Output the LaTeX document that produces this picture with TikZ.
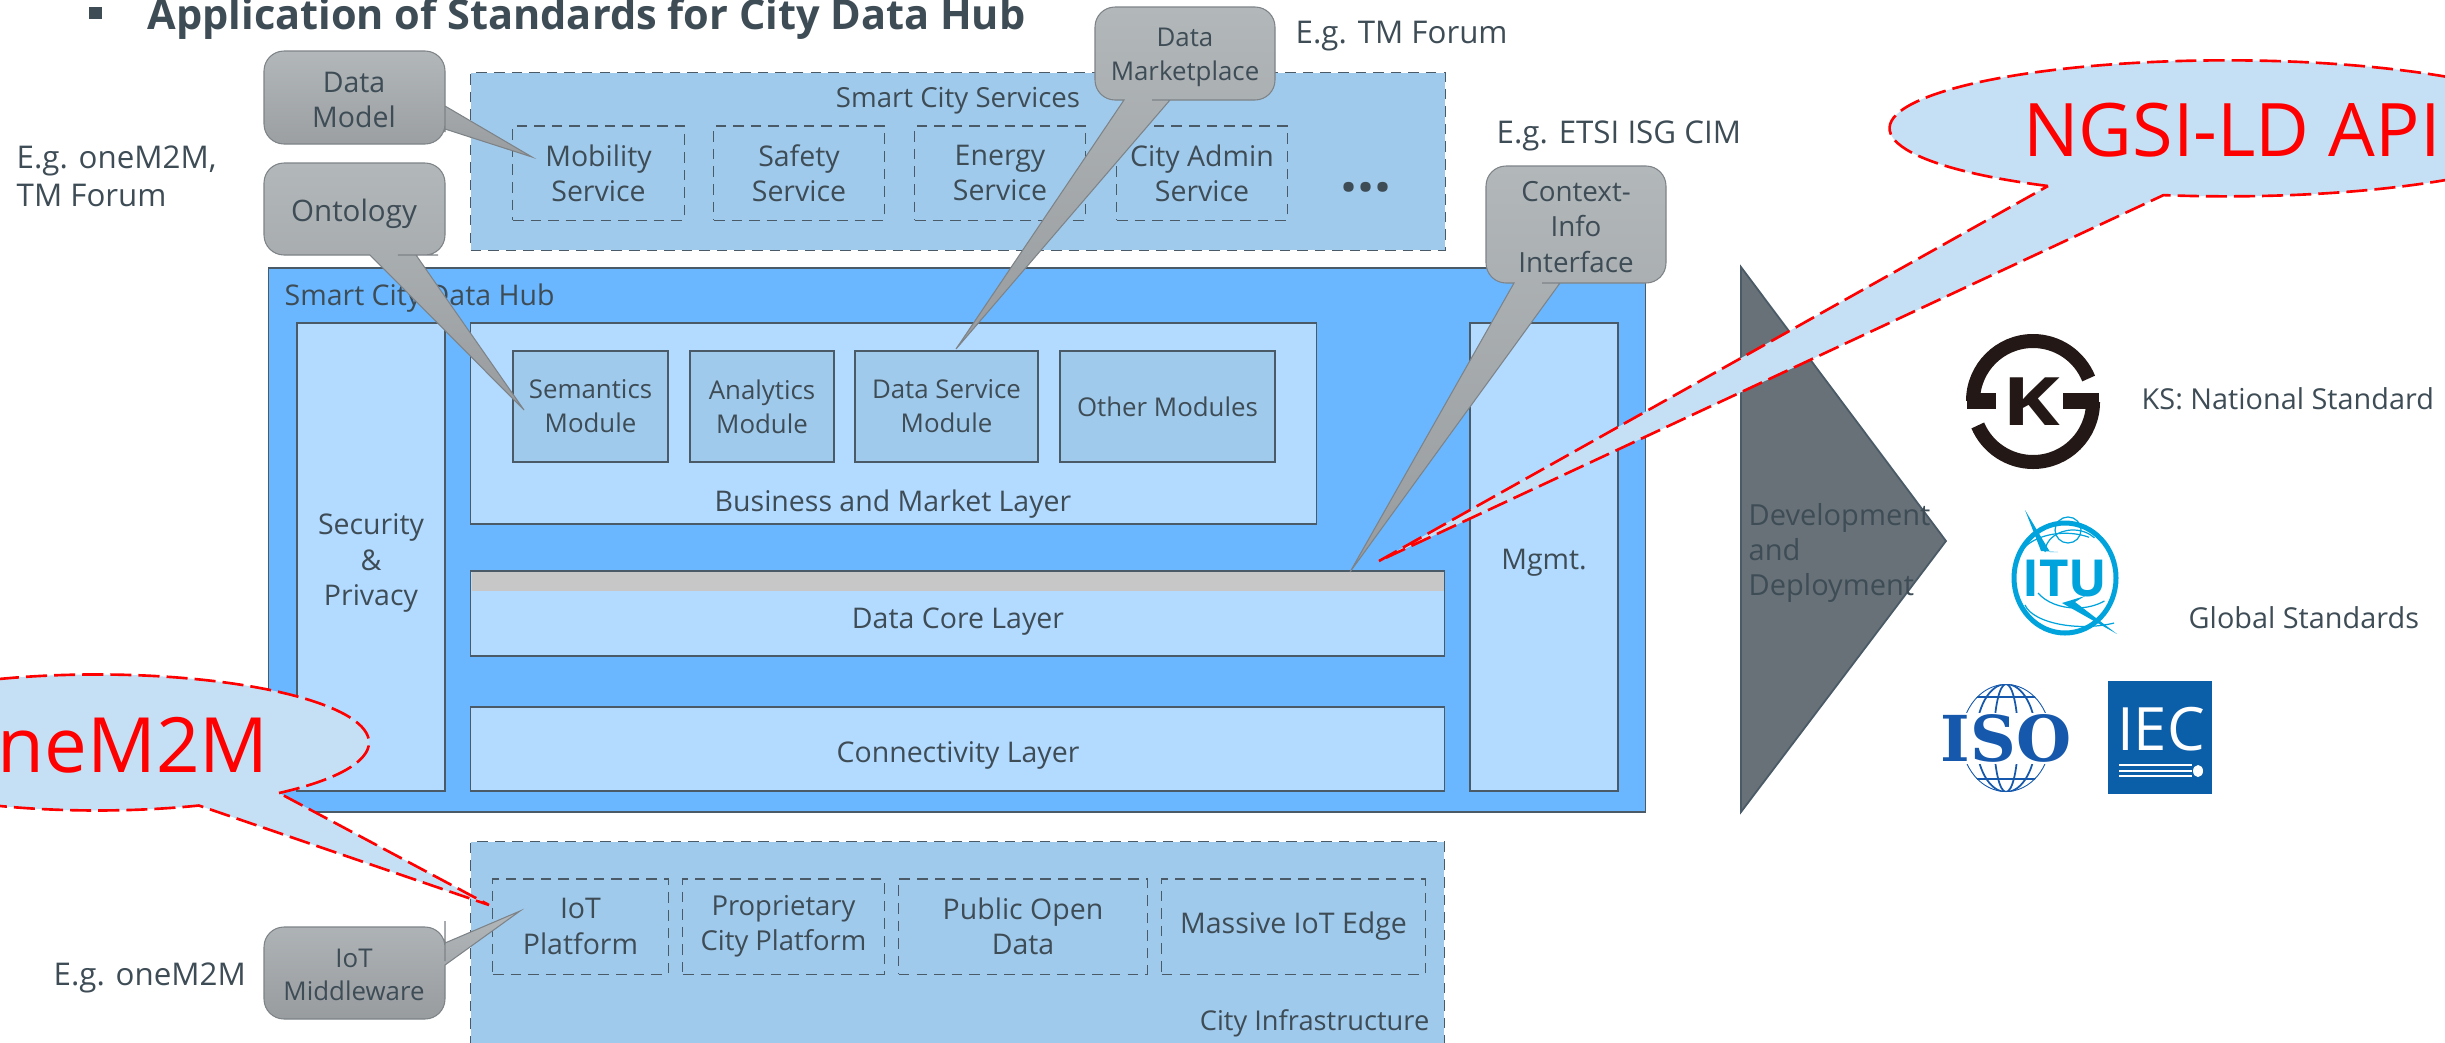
\documentclass[tikz,border=0pt]{standalone}
\usepackage{fontspec}
\setmainfont{Open Sans}
\newfontfamily\logoserif{DejaVu Serif}
\usepackage{tikz}
\usetikzlibrary{positioning}
\definecolor{cityblue}{RGB}{160,202,236}
\definecolor{hubblue}{RGB}{106,183,255}
\definecolor{layerblue}{RGB}{179,218,255}
\definecolor{bubbleblue}{RGB}{197,224,244}
\definecolor{inktext}{RGB}{62,76,86}
\definecolor{edgegray}{RGB}{74,90,102}
\definecolor{calloutedge}{RGB}{125,131,135}
\definecolor{callouttop}{RGB}{178,183,186}
\definecolor{calloutbottom}{RGB}{152,156,159}
\definecolor{arrowgray}{RGB}{103,113,119}
\definecolor{itublue}{RGB}{0,163,220}
\definecolor{isoblue}{RGB}{21,88,172}
\definecolor{iecblue}{RGB}{11,94,168}
\definecolor{ksblack}{RGB}{35,24,21}
\tikzstyle{bodytext} = [text=inktext, align=center, inner sep=0pt, font=\fontsize{8.1pt}{10pt}\selectfont]
\tikzstyle{smalltext} = [bodytext, font=\fontsize{7.35pt}{9.6pt}\selectfont]
\tikzstyle{sidetext} = [text=inktext, align=left, inner sep=0pt, font=\fontsize{8.9pt}{10.8pt}\selectfont]
\tikzstyle{logotext} = [sidetext, font=\fontsize{8.2pt}{10pt}\selectfont]
\tikzstyle{citygroup} = [rectangle, draw=edgegray, fill=cityblue, densely dashed, line width=0.3pt]
\tikzstyle{citybox} = [rectangle, bodytext, draw=edgegray, densely dashed, line width=0.3pt]
\tikzstyle{layerbox} = [rectangle, bodytext, draw=edgegray, fill=layerblue, line width=0.4pt]
\tikzstyle{modulebox} = [rectangle, smalltext, draw=edgegray, fill=cityblue, line width=0.4pt]
\tikzstyle{calloutshape} = [draw=calloutedge, line width=0.3pt, top color=callouttop, bottom color=calloutbottom]
\tikzstyle{bubbleshape} = [draw=red, fill=bubbleblue, dashed, dash pattern=on 6pt off 2pt, line width=0.75pt]
\tikzstyle{bubbletext} = [text=red, inner sep=0pt, font=\fontsize{21pt}{21pt}\selectfont]
\tikzstyle{logoline} = [line width=0.5pt, line cap=round]

\begin{document}
\begin{tikzpicture}[x=0.01cm, y=-0.01cm]
\clip (0,0) rectangle (2445,1042);

% Title line
\fill[inktext] (89,7) rectangle (102,19);
\node (title) [anchor=base west, inner sep=0pt, text=inktext, font=\fontsize{11.8pt}{12pt}\selectfont\bfseries] at (147,29) {Application of Standards for City Data Hub};

% Smart city services
\node (services) [citygroup, minimum width=9.74cm, minimum height=1.77cm] at (958,161.5) {};
\node (serviceslabel) [bodytext, font=\fontsize{7.85pt}{10pt}\selectfont] at (958,101) {Smart City Services};
\node (mobility) [citybox, minimum width=1.71cm, minimum height=0.94cm] at (598.5,173) {Mobility\\Service};
\node (safety) [citybox, minimum width=1.70cm, minimum height=0.94cm] at (799,173) {Safety\\Service};
\node (energy) [citybox, minimum width=1.70cm, minimum height=0.94cm] at (1000,173) {Energy\\Service};
\node (cityadmin) [citybox, minimum width=1.70cm, minimum height=0.94cm] at (1202,173) {City Admin\\Service};
\node (moredots) [anchor=base, inner sep=0pt, text=inktext, font=\fontsize{17pt}{17pt}\selectfont\bfseries] at (1366,191) {...};

% Data hub and its layers
\node (hub) [rectangle, draw=edgegray, fill=hubblue, line width=0.4pt, minimum width=13.76cm, minimum height=5.44cm] at (957,540) {};
\node (hublabel) [bodytext, anchor=base west] at (284,305) {Smart City Data Hub};
\node (security) [layerbox, minimum width=1.48cm, minimum height=4.68cm] at (371,557) {};
\node (securitylabel) [bodytext, font=\fontsize{8.1pt}{10.2pt}\selectfont] at (371,563) {Security\\\&\\Privacy};
\node (business) [layerbox, minimum width=8.45cm, minimum height=2.01cm] at (893.5,423.5) {};
\node (businesslabel) [bodytext] at (893,504) {Business and Market Layer};
\node (semantics) [modulebox, minimum width=1.55cm, minimum height=1.11cm] at (590.5,406.5) {Semantics\\Module};
\node (analytics) [modulebox, minimum width=1.44cm, minimum height=1.11cm] at (762,406.5) {Analytics\\Module};
\node (dataservice) [modulebox, minimum width=1.83cm, minimum height=1.11cm] at (946.5,406.5) {Data Service\\Module};
\node (othermodules) [modulebox, minimum width=2.15cm, minimum height=1.11cm] at (1167.5,406.5) {Other Modules};
\node (datacore) [layerbox, minimum width=9.73cm, minimum height=0.85cm] at (957.5,613.5) {};
\fill[black!22] (471.5,571.5) rectangle (1443.5,591);
\node (datacorelabel) [bodytext] at (958,622) {Data Core Layer};
\node (connectivity) [layerbox, minimum width=9.73cm, minimum height=0.84cm] at (957.5,749) {};
\node (connectivitylabel) [bodytext] at (958,755) {Connectivity Layer};
\node (mgmt) [layerbox, minimum width=1.48cm, minimum height=4.68cm] at (1544,557) {};
\node (mgmtlabel) [bodytext] at (1544,563) {Mgmt.};

% City infrastructure
\node (city) [citygroup, minimum width=9.73cm, minimum height=2.50cm] at (957.5,967) {};
\node (citylabel) [bodytext, anchor=base east, font=\fontsize{7.75pt}{10pt}\selectfont] at (1430,1030) {City Infrastructure};
\node (iotplatform) [citybox, minimum width=1.75cm, minimum height=0.95cm] at (580.5,926.5) {IoT\\Platform};
\node (proprietary) [citybox, font=\fontsize{7.8pt}{10pt}\selectfont, minimum width=2.01cm, minimum height=0.95cm] at (783.5,926.5) {Proprietary\\City Platform};
\node (publicdata) [citybox, minimum width=2.48cm, minimum height=0.95cm] at (1023,926.5) {Public Open\\Data};
\node (massiveiot) [citybox, minimum width=2.63cm, minimum height=0.95cm] at (1293.5,926.5) {Massive IoT Edge};

% Grey callouts
\path[calloutshape] (354,51) [rounded corners=0.2cm] -- (445,51) -- (445,104) [sharp corners] -- (445,106) -- (532,157) -- (445,129) -- (445,132) [rounded corners=0.2cm] -- (445,144) -- (264,144) -- (264,51) -- cycle;
\node (datamodel) [bodytext] at (354,100) {Data\\Model};
\path[calloutshape] (354,163) [rounded corners=0.2cm] -- (445,163) -- (445,255) -- (418,255) [sharp corners] -- (416,255) -- (524,410) -- (370,255) -- (368,255) [rounded corners=0.2cm] -- (264,255) -- (264,163) -- cycle;
\node (ontology) [bodytext, font=\fontsize{8.4pt}{10pt}\selectfont] at (354,214) {Ontology};
\path[calloutshape] (1185,7) [rounded corners=0.2cm] -- (1275,7) -- (1275,100) -- (1172,100) [sharp corners] -- (1170,100) -- (956,349) -- (1124,100) -- (1122,100) [rounded corners=0.2cm] -- (1095,100) -- (1095,7) -- cycle;
\node (marketplace) [smalltext] at (1185,57) {Data\\Marketplace};
\path[calloutshape] (1576,166) [rounded corners=0.2cm] -- (1666,166) -- (1666,283) -- (1562,283) [sharp corners] -- (1560,283) -- (1350,572) -- (1514,283) -- (1512,283) [rounded corners=0.2cm] -- (1486,283) -- (1486,166) -- cycle;
\node (contextinfo) [bodytext, font=\fontsize{7.9pt}{10pt}\selectfont] at (1576,227) {Context-\\Info\\Interface};
\path[calloutshape] (354,927) [rounded corners=0.2cm] -- (445,927) -- (445,941) [sharp corners] -- (445,943) -- (520,911) -- (445,965) -- (445,968) [rounded corners=0.2cm] -- (445,1019) -- (264,1019) -- (264,927) -- cycle;
\node (middleware) [smalltext] at (354,975) {IoT\\Middleware};

% Side notes
\node (notemodel) [sidetext, anchor=west] at (16,176) {E.g. oneM2M,\\TM Forum};
\node (notetm) [sidetext, anchor=base west] at (1295,43) {E.g. TM Forum};
\node (noteetsi) [sidetext, anchor=base west] at (1496,143) {E.g. ETSI ISG CIM};
\node (noteiot) [sidetext, anchor=base west] at (53,985) {E.g. oneM2M};
\node (noteks) [logotext, anchor=base west] at (2141,409) {KS: National Standard};
\node (noteglobal) [logotext, anchor=base west] at (2188,628) {Global Standards};

% Development arrow
\draw[fill=arrowgray, draw=edgegray, line width=0.5pt] (1741,267) -- (1946,541) -- (1741,812) -- cycle;
\node (deployment) [sidetext, anchor=west, font=\fontsize{8.25pt}{10pt}\selectfont] at (1748,553) {Development\\and\\Deployment};

% Red bubbles
\draw[bubbleshape] (2048,186) arc[start angle=122, end angle=460.8, x radius=337, y radius=68] -- (1379,561) -- cycle;
\node (ngsi) [bubbletext] at (2232,130) {NGSI-LD API};
\draw[bubbleshape] (279,793) arc[start angle=48, end angle=-292, x radius=272, y radius=68] -- (489,905) -- cycle;
\node (onem2m) [bubbletext, font=\fontsize{21.7pt}{22pt}\selectfont] at (110,745) {oneM2M};

% KS logo
\draw[ksblack, line width=0.16cm] (1967,401) -- (1996,401);
\draw[ksblack, line width=0.14cm] (1973,401) arc[start angle=180, end angle=338, radius=60];
\draw[ksblack, line width=0.16cm] (2063,401) -- (2099,401);
\draw[ksblack, line width=0.14cm] (2093,402) arc[start angle=0, end angle=157, radius=60];
\node (kslogo) [inner sep=0pt, text=ksblack, font=\fontsize{19pt}{19pt}\selectfont\bfseries] at (2031,402) {\scalebox{1.3}[1]{K}};

% ITU logo
\draw[itublue, line width=0.05cm] (2065,578) ellipse [x radius=51, y radius=55];
\fill[itublue] (2025,510) -- (2050,552) -- (2058,552) -- (2041,551) -- cycle;
\fill[itublue] (2062,603) -- (2117,634) -- (2075,602) -- (2085,596) -- cycle;
\draw[itublue, line width=0.35pt] (2020,553) arc[start angle=200, end angle=300, x radius=48, y radius=30];
\draw[itublue, line width=0.35pt] (2045,552) arc[start angle=180, end angle=320, x radius=28, y radius=22];
\draw[itublue, line width=0.35pt] (2068,530) ellipse [x radius=13, y radius=13];
\draw[itublue, line width=0.35pt] (2038,593) arc[start angle=150, end angle=50, x radius=44, y radius=30];
\draw[itublue, line width=0.35pt] (2025,605) arc[start angle=170, end angle=60, x radius=60, y radius=26];
\node (itulogo) [inner sep=0pt, text=itublue, font=\fontsize{14.5pt}{15pt}\selectfont\bfseries] at (2065,579) {ITU};

% ISO logo
\foreach \ytop/\ybot in {680/712, 764/796} {
\begin{scope}
\clip (1940,\ytop) rectangle (2072,\ybot);
\clip (2006,738) ellipse [x radius=45, y radius=54];
\draw[isoblue, logoline] (2006,738) ellipse [x radius=45, y radius=54];
\draw[isoblue, logoline] (2006,738) ellipse [x radius=30, y radius=54];
\draw[isoblue, logoline] (2006,738) ellipse [x radius=12, y radius=54];
\draw[isoblue, logoline] (1950,697) -- (2062,697);
\draw[isoblue, logoline] (1950,779) -- (2062,779);
\end{scope}
}
\node (isologo) [inner sep=0pt, text=isoblue, font=\fontsize{18pt}{18pt}\logoserif\bfseries] at (2006,738) {ISO};

% IEC logo
\fill[iecblue] (2108,681) rectangle (2212,794);
\node (ieclogo) [inner sep=0pt, text=white, font=\fontsize{17pt}{17pt}\selectfont] at (2161,729) {IEC};
\draw[white, line width=0.35pt] (2119,765) -- (2192,765);
\draw[white, line width=0.35pt] (2119,771) -- (2192,771);
\draw[white, line width=0.35pt] (2119,776) -- (2192,776);
\fill[white] (2198,771) ellipse [x radius=5, y radius=6];
\end{tikzpicture}
\end{document}
